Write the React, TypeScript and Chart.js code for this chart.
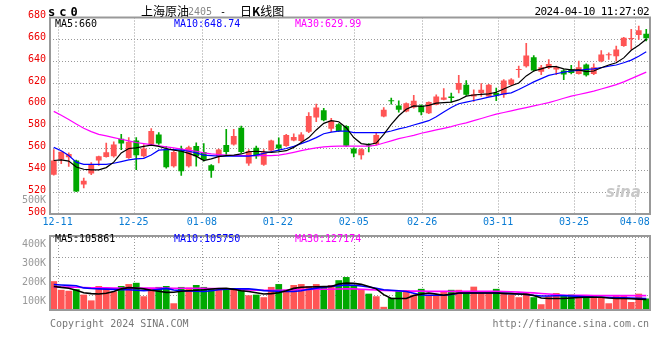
import React, { useEffect, useRef } from "react";
import { Chart, registerables } from "chart.js";
Chart.register(...registerables);

// ---------- DATA ----------
const DATES = [
  "12-08","12-11","12-12","12-13","12-14","12-15","12-18","12-19","12-20","12-21","12-22","12-25","12-26","12-27","12-28","12-29",
  "01-02","01-03","01-04","01-05","01-08","01-09","01-10","01-11","01-12","01-15","01-16","01-17","01-18","01-19","01-22","01-23",
  "01-24","01-25","01-26","01-29","01-30","01-31","02-01","02-02","02-05","02-06","02-07","02-08","02-19","02-20","02-21","02-22",
  "02-23","02-26","02-27","02-28","02-29","03-01","03-04","03-05","03-06","03-07","03-08","03-11","03-12","03-13","03-14","03-15",
  "03-18","03-19","03-20","03-21","03-22","03-25","03-26","03-27","03-28","03-29","04-01","04-02","04-03","04-08","04-09","04-10",
];
const X_TICK_LABELS = ["12-11","12-25","01-08","01-22","02-05","02-26","03-11","03-25","04-08"];
const PRICE_TICKS = [500,520,540,560,580,600,620,640,660,680];
const VOL_TICKS = [100,200,300,400]; // thousands

const OPEN = [
  536,550,552,549,527,537,549,552.3,553,569,
  551.4,567.4,553,563.7,572.9,559,543.7,558.2,543.7,562.2,
  556.9,544.6,552.9,563.1,563.7,579.1,546.2,560.6,545.2,558.2,
  563.7,562.2,567.4,566.8,575.4,588.3,595.1,578,582.2,580.5,
  560,553.8,563,564,589.2,603.9,599.4,593.8,597.5,599.4,
  592.3,600,604.6,607.7,613.8,618.5,607.7,610.8,607.7,610.8,
  609.2,618.5,632,635.4,643.7,630.2,633.8,632.3,631.4,632.3,
  628.3,636.9,628.3,640,645.5,644.6,653.8,660.3,664,665.2,
];
const HIGH = [
  559,557,556,549.5,533,547,553,565,566,573,
  570,570,563.7,578.2,574.5,562,557.5,562.2,562.2,565.2,
  564.6,545.2,559.5,577.5,577.5,580.6,559.1,562.2,559.1,567.8,
  569.8,572.9,573.5,574.5,592.9,600.6,596.9,587.7,582.8,581,
  560.5,560,564.6,573.8,597.5,606.2,603.7,601.8,608.6,600,
  602.8,609.2,614.8,610.8,627.1,622.2,613.8,619.4,618.8,615.4,
  623.1,624,635.4,656.3,645.2,636.3,641.5,635.4,632.3,636.3,
  640,637.5,637.5,649.8,647.7,653.8,661.8,669.2,672.2,669.2,
];
const LOW = [
  535.5,546,543.5,520.5,524,536,544.5,552,552,559,
  551,540.6,552,563,563.7,542,543,535.4,543,543.7,
  548.3,533.5,546.8,553.8,563,556,544.6,550.8,544.6,557.5,
  557.5,562,567,566,574.5,584.6,585.2,575.5,575.4,562,
  552.3,550.2,556.9,563.1,589,600.6,593.2,593.5,596.9,590.8,
  592,600,604.6,602.5,610.8,608.6,603.1,607.7,607.7,603.7,
  606.8,617.8,625.2,634.5,630.8,627.7,633.2,627.7,623.1,628.3,
  628,626.2,627.7,639.4,641.5,640,653.5,650.8,660,658.5,
];
const CLOSE = [
  549,557,555,520.5,530.5,545,553,556.6,563.7,564.6,
  566.2,553.8,560,576,564.6,542.8,556.9,539.1,561.2,552.9,
  549.8,539.7,559.1,556.9,571.4,556.9,557.5,552.9,556.6,567.4,
  560,572.3,570.5,572.9,589.8,597.5,585.8,585.5,576,562.5,
  555.4,559.4,562,572.3,595.4,603.3,595.4,601.5,603.7,593.2,
  602.5,607.7,606.8,606.2,620,609.2,609.8,613.8,618.5,608.6,
  622.2,623.1,632.6,645.2,631.4,634.5,637.5,634.5,627.7,629.2,
  634.5,627.1,634.5,646.2,645.8,650.8,661.5,660.9,668.3,660.9,
];
const MA5 = [
  549,549.5,548.5,543,541,540.5,540.5,542.5,547.5,556,
  560,560.5,562,563,562,560,558.5,557.5,555.5,553,
  549,550.5,552.5,553.5,554,555,557,557.5,557,556.5,
  557,558,561,565.5,570,577,583,585.5,584.5,579,
  570,564.5,563.5,565,573,582,590,596,599,598.5,
  599.5,601.5,602,602.5,604.5,608,609,609.5,610,611.5,
  614.5,617.5,620,626.5,631,633,635,635,633,632,
  632,630.5,631,634,636.5,638.5,643,650,654.5,660,
];
const MA10 = [
  561,558,553.5,547.5,545.5,545.5,545.5,545.5,546.5,548,
  549.5,550.5,551,554,558.5,559,559,558.5,557.5,556,
  554,553.5,553,553,553,553,553,554,555.5,557,
  558.5,560,562,564.5,567,570,573.5,575,576,576,
  574.5,574.5,574.5,574.5,574.5,576,578,579.5,581.5,583.5,
  585.5,589,593.5,597.5,601,602.5,604,605.5,607,608.5,
  610,611,614,617.5,621,624,627,628.5,630,631,
  631.5,632.5,633,634,635.5,636.5,638.5,641,644.5,648.7,
];
const MA30 = [
  594,590.5,586.5,582.5,578.5,575.5,573,571.5,570,568.5,
  567,565.5,564.5,563.5,562.5,561.5,560.5,559.5,558.5,557.5,
  556,555,554.5,554,553.5,553.5,553.5,553.5,553.5,553.5,
  554,555,556.5,558,559.5,560.5,561.5,562,562.2,562.2,
  562.2,562.2,562.2,563,565,567,569,570.5,572,574,
  575.5,577,578.5,580,582,583.5,585.5,587.5,589.5,591.5,
  593,594.5,596,597.5,599,600.5,602,604,606,608,
  609.5,611,612.5,614.5,616.5,618.5,621,624,627,630,
];
// volume in thousands
const VOLUME = [
  175,130,125,133.5,105,75,150,141.5,121.5,150,
  160,166.5,96.5,138.5,145,150,60,145,141.5,155,
  145,138.5,138.5,138.5,133.5,138.5,101.5,105,91.5,145,
  160,130,155,160,150,160,150,155,180,196.5,
  155,133.5,110,96.5,41.5,88.5,125,128.5,105,135,
  105,101.5,121.5,130,130,113.5,146.5,113.5,113.5,135,
  113.5,105,91.5,113.5,91.5,55,96.5,113.5,101.5,105,
  96.5,101.5,101.5,91.5,60,101.5,101.5,66.5,110,85,
];
const VOL_MA5 = [
  147.5,142.5,138.5,127.5,115,110,108.5,112.5,121.5,135,
  141.5,139,135,127.5,122.5,116.5,117.5,122.5,125,127.5,
  130,134,136.5,138.5,132.5,125,121.5,115,108.5,110,
  115,125,137.5,143.5,145,146,146.5,147.5,160,165,
  163.5,158.5,147.5,135,105,85,85,85,100,107.5,
  113.5,107.5,101.5,107.5,113.5,113.5,113.5,113.5,113.5,113.5,
  111.5,110,108.5,106.5,100,87.5,85,85,85,87.5,
  90,91.5,91.5,91.5,87.5,85,85,83.5,81.5,80,
];
const VOL_MA10 = [
  157.5,155,153,151.5,140,136.5,135,133.5,132.5,131,
  130,128,126,127.5,132.5,137.5,129,126,124,122.5,
  121.5,125,130,133.5,135,135,135,131.5,126,124,
  122.5,121.5,121.5,125,132.5,139,144,148,152,155,
  154,150,145,137.5,130,127.5,125,121.5,112.5,103,
  101.5,101.5,101.5,106.5,112.5,113.5,113.5,113.5,113.5,113.5,
  111.5,110,108,106,101,97.5,98,99,100,98,
  96,94,92,91,90,89,88,87,86,85,
];
const VOL_MA30 = [
  145,145,144,143,142,141,140,140,139,139,
  139,139,139,139,139,139,138,138,138,138,
  138,137,136,135,133,131,129,128,128,128,
  128,129,130,131,132,133,133,133,134,135,
  135,133,131,129,127,125,124,123,123,123,
  122,122,122,122,122,122,122,122,122,122,
  121,120,118,116,114,111,108,105,102,101,
  101,101,100,100,100,100,100,100,100,100,
];

// ---------- STYLE ----------
const UP = "#ff5555";
const DOWN = "#00a800";
const GRID = "#999999";
const BOX = "#999999";
const MONO = '"DejaVu Sans Mono", "Liberation Mono", monospace';
const CJK = '"Noto Sans CJK SC", sans-serif';

const candleColors = () => OPEN.map((o, i) => (CLOSE[i] >= o ? UP : DOWN));

// Draws the dotted vertical grid at the x2 scale ticks and the gray frame.
const framePlugin = {
  id: "frame",
  beforeDatasetsDraw(chart: any) {
    const { ctx, chartArea: a } = chart;
    const s = chart.scales.x2;
    ctx.save();
    ctx.strokeStyle = GRID;
    ctx.lineWidth = 1;
    ctx.setLineDash([1, 2]);
    s.ticks.forEach((t: any) => {
      const x = Math.round(s.getPixelForValue(t.value)) + 0.5;
      ctx.beginPath();
      ctx.moveTo(x, a.top);
      ctx.lineTo(x, a.bottom);
      ctx.stroke();
    });
    ctx.restore();
  },
  afterDraw(chart: any) {
    const { ctx, chartArea: a } = chart;
    ctx.save();
    ctx.strokeStyle = BOX;
    ctx.lineWidth = 2;
    ctx.strokeRect(a.left, a.top, a.right - a.left, a.bottom - a.top);
    ctx.restore();
  },
};

const lineDs = (data: number[], color: string, width: number) => ({
  type: "line" as const,
  data: data.map((v, i) => ({ x: i, y: v })),
  borderColor: color,
  borderWidth: width,
  pointRadius: 0,
  tension: 0,
  order: 0,
});

const xScales = (showLabels: boolean) => ({
  x: {
    type: "linear",
    min: -0.5,
    max: DATES.length - 0.5,
    display: false,
    offset: false,
    grid: { offset: false },
  },
  x2: {
    type: "linear",
    position: "bottom",
    min: 0,
    max: DATES.length - 1,
    offset: false,
    afterBuildTicks: (s: any) => {
      s.ticks = X_TICK_LABELS.map((l) => ({ value: DATES.indexOf(l) }));
    },
    afterFit: (s: any) => {
      s.height = showLabels ? 16 : 0;
    },
    ticks: {
      display: showLabels,
      autoSkip: false,
      maxRotation: 0,
      padding: 2,
      color: "#0a7cd4",
      font: { family: MONO, size: 10 },
      callback: (v: number) => DATES[Math.round(v)],
    },
    grid: { display: false, drawTicks: false, tickLength: 0, offset: false },
    border: { display: false },
  },
});

function PriceChart() {
  const ref = useRef<HTMLCanvasElement>(null);
  useEffect(() => {
    const colors = candleColors();
    const chart = new Chart(ref.current!, {
      type: "bar",
      data: {
        datasets: [
          lineDs(MA5, "#000000", 1.2),
          lineDs(MA10, "#0000ff", 1.2),
          lineDs(MA30, "#ff00ff", 1.2),
          {
            type: "bar",
            data: OPEN.map((o, i) => ({ x: i, y: [o, CLOSE[i]] })),
            backgroundColor: colors,
            barPercentage: 0.78,
            categoryPercentage: 1,
            grouped: false,
            minBarLength: 1,
            order: 1,
          } as any,
          {
            type: "bar",
            data: LOW.map((l, i) => ({ x: i, y: [l, HIGH[i]] })),
            backgroundColor: colors,
            barThickness: 1,
            grouped: false,
            order: 2,
          } as any,
        ],
      },
      options: {
        animation: false,
        responsive: false,
        devicePixelRatio: 1,
        layout: { padding: { top: 17.5, right: 10, left: 0, bottom: 0 } },
        plugins: { legend: { display: false }, tooltip: { enabled: false } },
        scales: {
          ...(xScales(true) as any),
          y: {
            type: "linear",
            position: "left",
            min: PRICE_TICKS[0],
            max: PRICE_TICKS[PRICE_TICKS.length - 1],
            afterBuildTicks: (s: any) => {
              s.ticks = PRICE_TICKS.map((v) => ({ value: v }));
            },
            afterFit: (s: any) => {
              s.width = 50;
            },
            ticks: {
              color: "#ee0000",
              padding: 4,
              labelOffset: -2,
              font: { family: MONO, size: 10 },
              callback: (v: number) => String(v),
            },
            grid: { color: GRID, drawTicks: false },
            border: { display: false, dash: [1, 2] },
          },
        },
      },
      plugins: [framePlugin],
    });
    return () => chart.destroy();
  }, []);
  return <canvas ref={ref} width={660} height={230} style={{ position: "absolute", left: 0, top: 0 }} />;
}

function VolumeChart() {
  const ref = useRef<HTMLCanvasElement>(null);
  useEffect(() => {
    const colors = candleColors();
    const chart = new Chart(ref.current!, {
      type: "bar",
      data: {
        datasets: [
          lineDs(VOL_MA5, "#000000", 1.6),
          lineDs(VOL_MA10, "#0000ff", 1.6),
          lineDs(VOL_MA30, "#ff00ff", 1.6),
          {
            type: "bar",
            data: VOLUME.map((v, i) => ({ x: i, y: v })),
            backgroundColor: colors,
            barPercentage: 0.9,
            categoryPercentage: 1,
            grouped: false,
            order: 1,
          } as any,
        ],
      },
      options: {
        animation: false,
        responsive: false,
        devicePixelRatio: 1,
        layout: { padding: { top: 8, right: 10, left: 0, bottom: 9 } },
        plugins: { legend: { display: false }, tooltip: { enabled: false } },
        scales: {
          ...(xScales(false) as any),
          y: {
            type: "linear",
            position: "left",
            min: 25,
            max: 410,
            afterBuildTicks: (s: any) => {
              s.ticks = VOL_TICKS.map((v) => ({ value: v }));
            },
            afterFit: (s: any) => {
              s.width = 50;
            },
            ticks: {
              color: "#999999",
              padding: 4,
              labelOffset: 6,
              font: { family: MONO, size: 10 },
              callback: (v: number) => `${v}K`,
            },
            grid: { color: GRID, drawTicks: false },
            border: { display: false, dash: [1, 2] },
          },
        },
      },
      plugins: [framePlugin],
    });
    return () => chart.destroy();
  }, []);
  return <canvas ref={ref} width={660} height={94} style={{ position: "absolute", left: 0, top: 226 }} />;
}

const txt = (extra: React.CSSProperties): React.CSSProperties => ({
  position: "absolute",
  whiteSpace: "nowrap",
  fontFamily: MONO,
  fontSize: 10,
  lineHeight: "12px",
  ...extra,
});

export default function App() {
  return (
    <div style={{ position: "fixed", left: 0, top: 0, width: 660, height: 360, background: "#fff", overflow: "hidden" }}>
      <PriceChart />
      <VolumeChart />
      {/* header */}
      <div style={txt({ left: 48, top: 5, fontSize: 12, lineHeight: "14px", fontWeight: "bold", letterSpacing: "4px", color: "#000" })}>sc0</div>
      <div style={txt({ left: 141, top: 4, fontFamily: CJK, fontSize: 12, lineHeight: "14px", color: "#000" })}>上海原油</div>
      <div style={txt({ left: 188, top: 6, color: "#888" })}>2405</div>
      <div style={txt({ left: 220, top: 6, color: "#000" })}>-</div>
      <div style={txt({ left: 240, top: 4, fontFamily: CJK, fontSize: 12, lineHeight: "14px", color: "#000" })}>
        日<b>K</b>线图
      </div>
      <div style={txt({ right: 11, top: 6, fontSize: 11, letterSpacing: "-0.6px", color: "#000" })}>2024-04-10 11:27:02</div>
      {/* price legend */}
      <div style={txt({ left: 55, top: 18, color: "#000" })}>MA5:660</div>
      <div style={txt({ left: 174, top: 18, color: "#0000ff" })}>MA10:648.74</div>
      <div style={txt({ left: 295, top: 18, color: "#ff00ff" })}>MA30:629.99</div>
      <div style={txt({ left: 22, top: 194, color: "#999" })}>500K</div>
      <div style={txt({ left: 606, top: 184, fontFamily: "DejaVu Sans", fontSize: 15, lineHeight: "16px", fontStyle: "italic", fontWeight: "bold", color: "#c8c8c8" })}>sina</div>
      {/* volume legend */}
      <div style={txt({ left: 55, top: 233, color: "#000" })}>MA5:105861</div>
      <div style={txt({ left: 174, top: 233, color: "#0000ff" })}>MA10:105750</div>
      <div style={txt({ left: 295, top: 233, color: "#ff00ff" })}>MA30:127174</div>
      {/* footer */}
      <div style={txt({ left: 50, top: 318, color: "#777" })}>Copyright 2024 SINA.COM</div>
      <div style={txt({ right: 11, top: 318, color: "#777" })}>http://finance.sina.com.cn</div>
    </div>
  );
}
